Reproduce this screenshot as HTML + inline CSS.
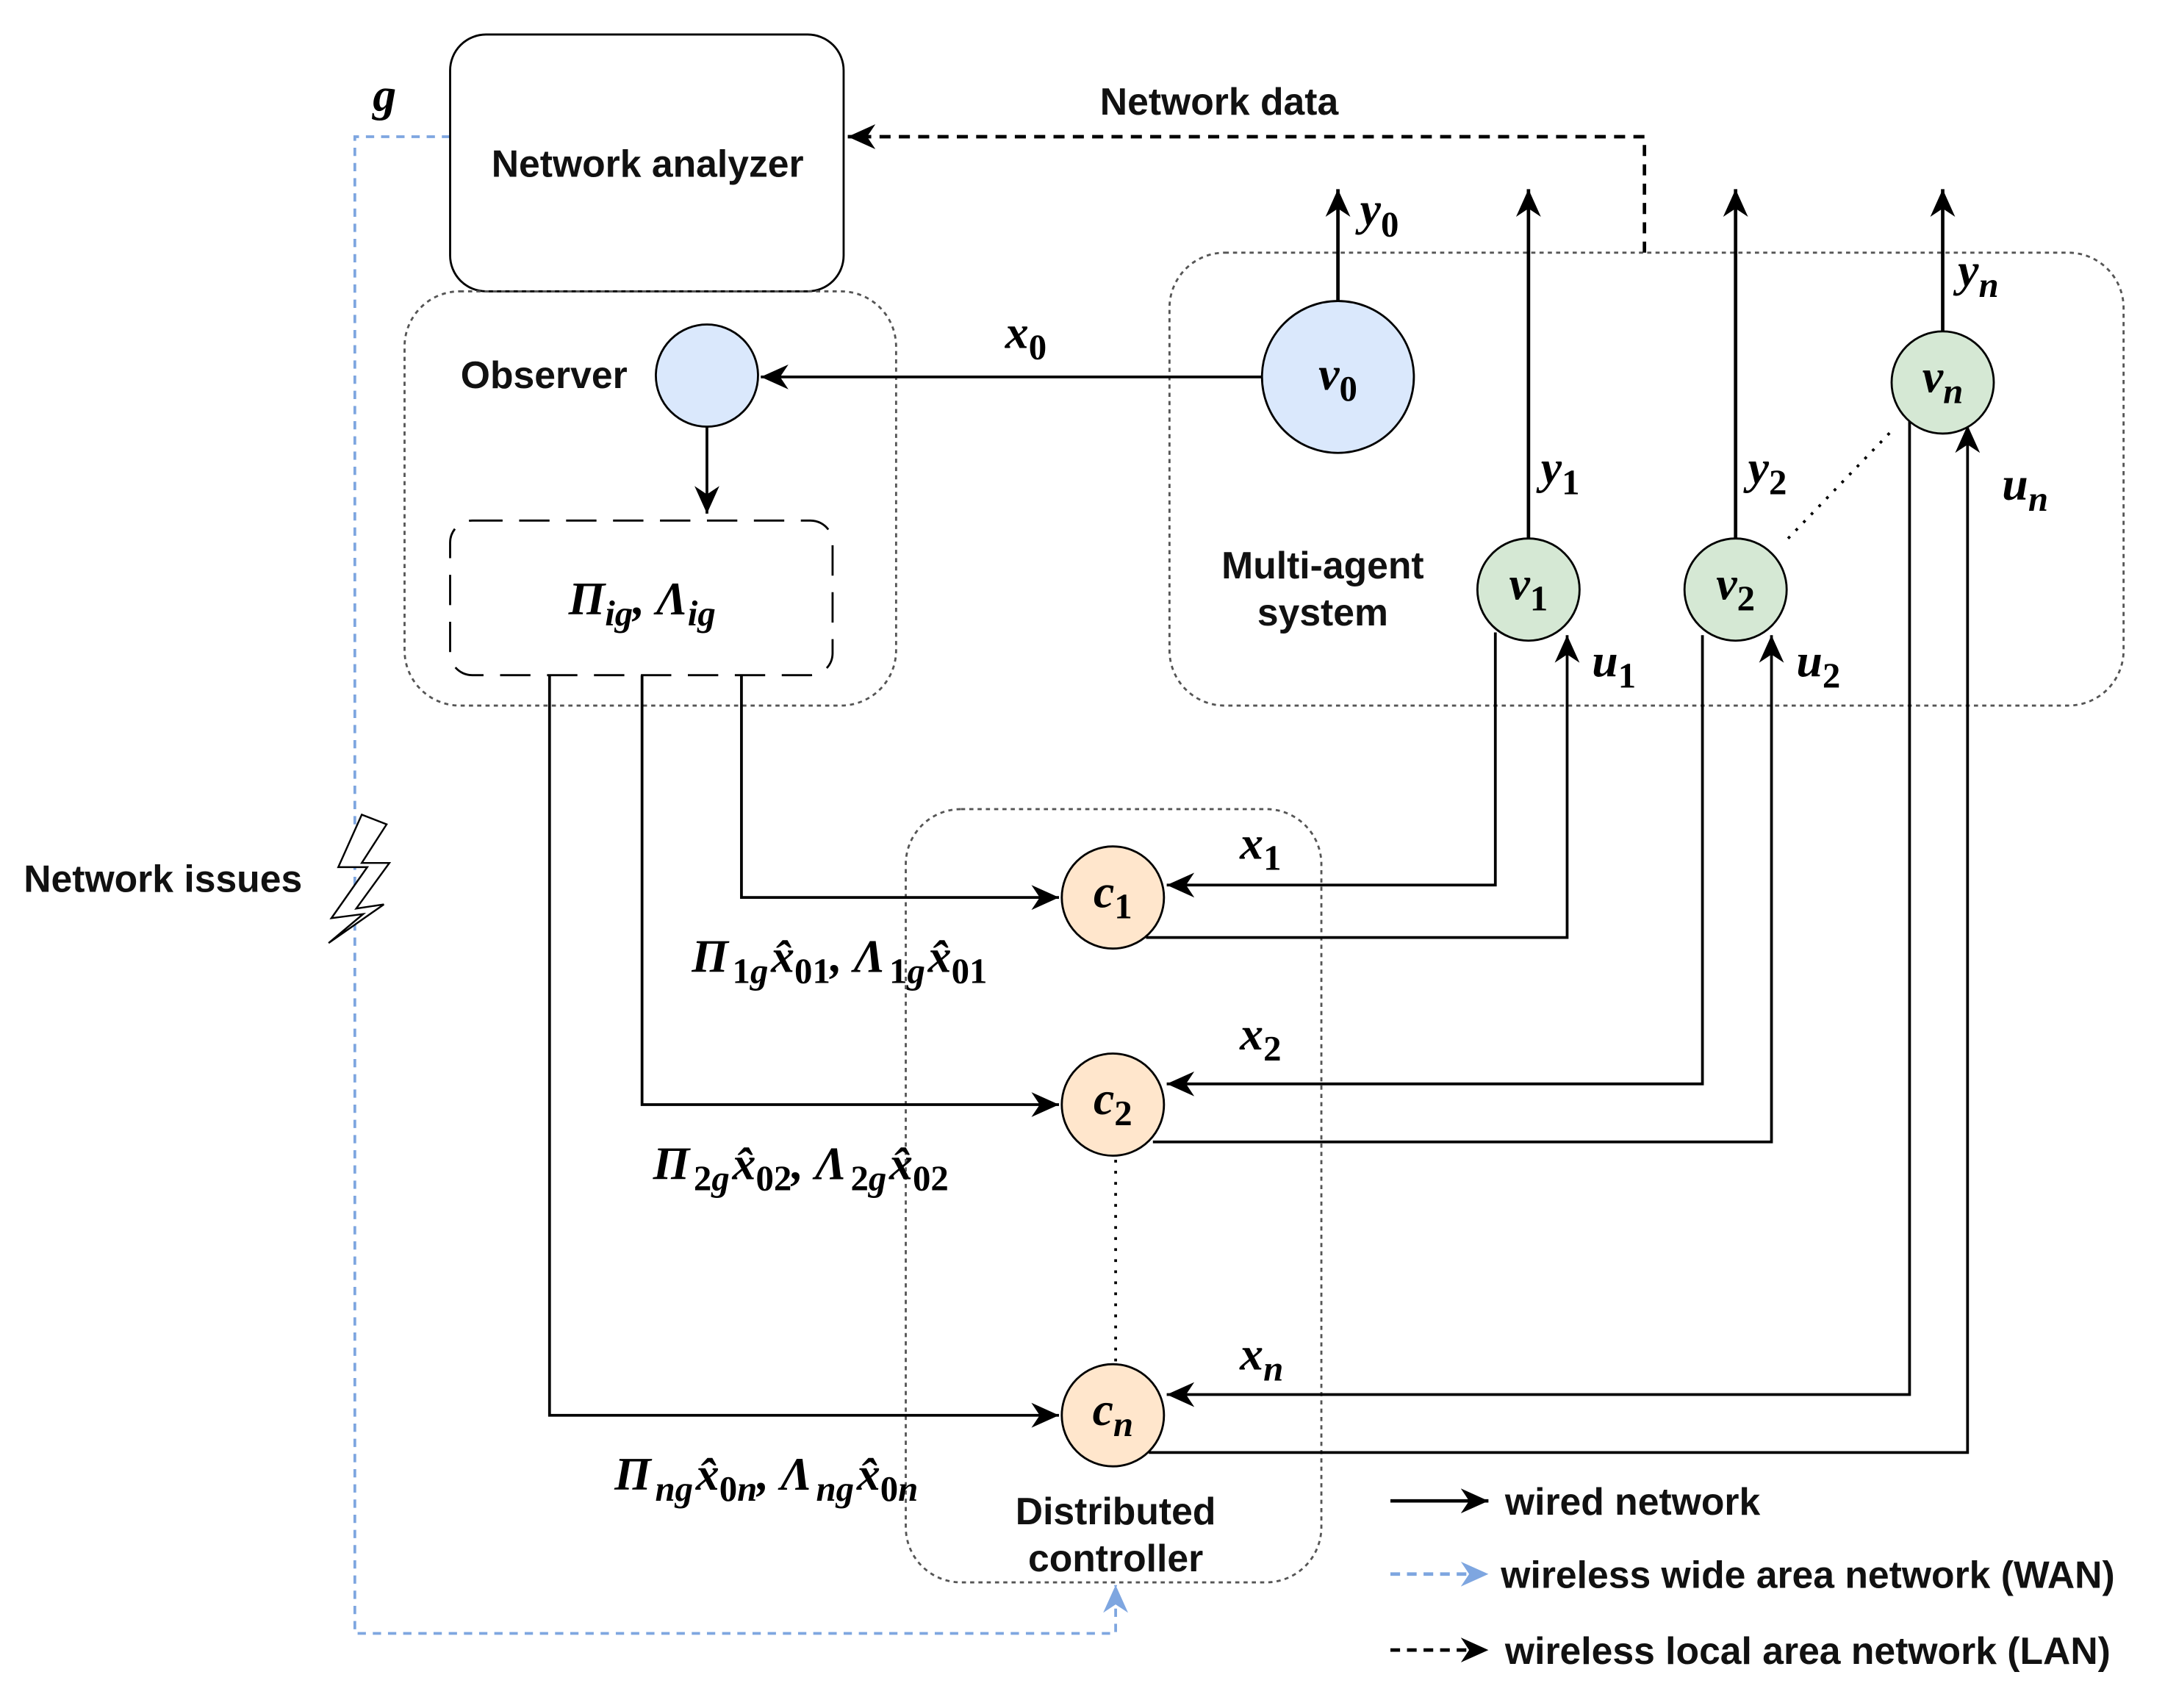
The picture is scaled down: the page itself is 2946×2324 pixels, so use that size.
<!DOCTYPE html>
<html><head><meta charset="utf-8"><style>
html,body{margin:0;padding:0;background:#fff;}
svg{display:block;}
.s{font-family:"Liberation Sans",sans-serif;font-size:27.5px;font-weight:bold;fill:#111;}
.m{font-family:"Liberation Serif",serif;font-size:34px;font-weight:bold;font-style:italic;fill:#000;}
.sub{font-size:26px;}
.u{font-style:normal;}
</style></head><body>
<svg width="2946" height="2324" viewBox="0 0 1568 1237" preserveAspectRatio="none" xmlns="http://www.w3.org/2000/svg">
<defs>
<marker id="A" markerWidth="22" markerHeight="22" refX="20" refY="11" orient="auto" markerUnits="userSpaceOnUse" viewBox="0 0 22 22"><path d="M0,2 L20,11 L0,20 L6,11 z" fill="#000"/></marker>
<marker id="AB" markerWidth="22" markerHeight="22" refX="20" refY="11" orient="auto" markerUnits="userSpaceOnUse" viewBox="0 0 22 22"><path d="M0,2 L20,11 L0,20 L6,11 z" fill="#7ea6e0"/></marker>
</defs>

<path d="M326,99 L257,99 L257,1183 L808,1183 L808,1148" fill="none" stroke="#7ea6e0" stroke-width="2" stroke-dasharray="6,5" marker-end="url(#AB)"/>

<rect x="326" y="25" width="285" height="186" rx="26" fill="#fff" stroke="#000" stroke-width="1.5"/>
<text class="s" x="469" y="128" text-anchor="middle">Network analyzer</text>
<text class="m" x="270" y="80">g</text>

<rect x="293" y="211" width="356" height="300" rx="40" fill="none" stroke="#555" stroke-width="1.5" stroke-dasharray="3,3"/>
<text class="s" x="394" y="281" text-anchor="middle">Observer</text>
<circle cx="512" cy="272" r="37" fill="#dae8fc" stroke="#000" stroke-width="1.5"/>
<line x1="512" y1="309" x2="512" y2="372" stroke="#000" stroke-width="2" marker-end="url(#A)"/>
<rect x="326" y="377" width="277" height="112" rx="16" fill="none" stroke="#000" stroke-width="1.5" stroke-dasharray="22,12"/>
<text class="m" x="465" y="445" text-anchor="middle">Π<tspan class="sub" dy="8">ig</tspan><tspan dy="-8">, Λ</tspan><tspan class="sub" dy="8">ig</tspan></text>

<rect x="847" y="183" width="691" height="328" rx="40" fill="none" stroke="#555" stroke-width="1.5" stroke-dasharray="3,3"/>
<text class="s" x="958" y="419" text-anchor="middle">Multi-agent</text>
<text class="s" x="958" y="453" text-anchor="middle">system</text>

<path d="M1191,183 L1191,99 L614,99" fill="none" stroke="#000" stroke-width="2.5" stroke-dasharray="8,6" marker-end="url(#A)"/>
<text class="s" x="883" y="83" text-anchor="middle">Network data</text>

<line x1="969" y1="218" x2="969" y2="137" stroke="#000" stroke-width="2.5" marker-end="url(#A)"/>
<line x1="914" y1="273" x2="551" y2="273" stroke="#000" stroke-width="2" marker-end="url(#A)"/>
<circle cx="969" cy="273" r="55" fill="#dae8fc" stroke="#000" stroke-width="1.5"/>
<text class="m" x="969" y="282" text-anchor="middle">v<tspan class="sub u" dy="8">0</tspan></text>
<text class="m" x="985" y="163">y<tspan class="sub u" dy="8">0</tspan></text>
<text class="m" x="728" y="252">x<tspan class="sub u" dy="8">0</tspan></text>

<line x1="1107" y1="390" x2="1107" y2="137" stroke="#000" stroke-width="2.5" marker-end="url(#A)"/>
<line x1="1257" y1="390" x2="1257" y2="137" stroke="#000" stroke-width="2.5" marker-end="url(#A)"/>
<line x1="1407" y1="240" x2="1407" y2="137" stroke="#000" stroke-width="2.5" marker-end="url(#A)"/>
<text class="m" x="1116" y="350">y<tspan class="sub u" dy="8">1</tspan></text>
<text class="m" x="1266" y="350">y<tspan class="sub u" dy="8">2</tspan></text>
<text class="m" x="1418" y="207">y<tspan class="sub" dy="8">n</tspan></text>
<line x1="1295" y1="390" x2="1372" y2="310" stroke="#000" stroke-width="2" stroke-dasharray="2,6"/>

<rect x="656" y="586" width="301" height="560" rx="40" fill="none" stroke="#555" stroke-width="1.5" stroke-dasharray="3,3"/>
<text class="s" x="808" y="1104" text-anchor="middle">Distributed</text>
<text class="s" x="808" y="1138" text-anchor="middle">controller</text>
<line x1="808" y1="840" x2="808" y2="988" stroke="#000" stroke-width="2" stroke-dasharray="2,6"/>

<path d="M537,489 L537,650 L767,650" fill="none" stroke="#000" stroke-width="2" marker-end="url(#A)"/>
<path d="M465,489 L465,800 L767,800" fill="none" stroke="#000" stroke-width="2" marker-end="url(#A)"/>
<path d="M398,489 L398,1025 L767,1025" fill="none" stroke="#000" stroke-width="2" marker-end="url(#A)"/>

<path d="M1083,458 L1083,641 L845,641" fill="none" stroke="#000" stroke-width="2" marker-end="url(#A)"/>
<path d="M830,679 L1135,679 L1135,460" fill="none" stroke="#000" stroke-width="2" marker-end="url(#A)"/>
<path d="M1233,460 L1233,785 L845,785" fill="none" stroke="#000" stroke-width="2" marker-end="url(#A)"/>
<path d="M835,827 L1283,827 L1283,460" fill="none" stroke="#000" stroke-width="2" marker-end="url(#A)"/>
<path d="M1383,302 L1383,1010 L845,1010" fill="none" stroke="#000" stroke-width="2" marker-end="url(#A)"/>
<path d="M832,1052 L1425,1052 L1425,308" fill="none" stroke="#000" stroke-width="2" marker-end="url(#A)"/>

<circle cx="1107" cy="427" r="37" fill="#d5e8d4" stroke="#000" stroke-width="1.5"/>
<text class="m" x="1107" y="434" text-anchor="middle">v<tspan class="sub u" dy="8">1</tspan></text>
<circle cx="1257" cy="427" r="37" fill="#d5e8d4" stroke="#000" stroke-width="1.5"/>
<text class="m" x="1257" y="434" text-anchor="middle">v<tspan class="sub u" dy="8">2</tspan></text>
<circle cx="1407" cy="277" r="37" fill="#d5e8d4" stroke="#000" stroke-width="1.5"/>
<text class="m" x="1407" y="284" text-anchor="middle">v<tspan class="sub" dy="8">n</tspan></text>
<text class="m" x="1153" y="490">u<tspan class="sub u" dy="8">1</tspan></text>
<text class="m" x="1301" y="490">u<tspan class="sub u" dy="8">2</tspan></text>
<text class="m" x="1450" y="362">u<tspan class="sub" dy="8">n</tspan></text>

<circle cx="806" cy="650" r="37" fill="#ffe6cc" stroke="#000" stroke-width="1.5"/>
<text class="m" x="806" y="657" text-anchor="middle">c<tspan class="sub u" dy="8">1</tspan></text>
<circle cx="806" cy="800" r="37" fill="#ffe6cc" stroke="#000" stroke-width="1.5"/>
<text class="m" x="806" y="807" text-anchor="middle">c<tspan class="sub u" dy="8">2</tspan></text>
<circle cx="806" cy="1025" r="37" fill="#ffe6cc" stroke="#000" stroke-width="1.5"/>
<text class="m" x="806" y="1032" text-anchor="middle">c<tspan class="sub" dy="8">n</tspan></text>

<text class="m" x="898" y="622">x<tspan class="sub u" dy="8">1</tspan></text>
<text class="m" x="898" y="760">x<tspan class="sub u" dy="8">2</tspan></text>
<text class="m" x="898" y="992">x<tspan class="sub" dy="8">n</tspan></text>

<text class="m" x="608" y="704" text-anchor="middle">Π<tspan class="sub" dy="8" dx="3"><tspan class="u">1</tspan>g</tspan><tspan dy="-8" dx="2">x̂</tspan><tspan class="sub u" dy="8">01</tspan><tspan dy="-8">, Λ</tspan><tspan class="sub" dy="8" dx="3"><tspan class="u">1</tspan>g</tspan><tspan dy="-8" dx="2">x̂</tspan><tspan class="sub u" dy="8">01</tspan></text>
<text class="m" x="580" y="854" text-anchor="middle">Π<tspan class="sub" dy="8" dx="3"><tspan class="u">2</tspan>g</tspan><tspan dy="-8" dx="2">x̂</tspan><tspan class="sub u" dy="8">02</tspan><tspan dy="-8">, Λ</tspan><tspan class="sub" dy="8" dx="3"><tspan class="u">2</tspan>g</tspan><tspan dy="-8" dx="2">x̂</tspan><tspan class="sub u" dy="8">02</tspan></text>
<text class="m" x="555" y="1079" text-anchor="middle">Π<tspan class="sub" dy="8" dx="3">ng</tspan><tspan dy="-8" dx="2">x̂</tspan><tspan class="sub" dy="8"><tspan class="u">0</tspan>n</tspan><tspan dy="-8">, Λ</tspan><tspan class="sub" dy="8" dx="3">ng</tspan><tspan dy="-8" dx="2">x̂</tspan><tspan class="sub" dy="8"><tspan class="u">0</tspan>n</tspan></text>

<text class="s" x="118" y="646" text-anchor="middle">Network issues</text>
<path d="M262,590 L245,628 L266,628 L240,665 L263,662 L238,683 L278,655 L258,658 L282,625 L262,625 L280,597 z" fill="#fff" stroke="#000" stroke-width="1.3"/>

<line x1="1007" y1="1087" x2="1078" y2="1087" stroke="#000" stroke-width="2.5" marker-end="url(#A)"/>
<text class="s" x="1090" y="1097">wired network</text>
<line x1="1007" y1="1140" x2="1078" y2="1140" stroke="#7ea6e0" stroke-width="2.5" stroke-dasharray="7,5" marker-end="url(#AB)"/>
<text class="s" x="1087" y="1150">wireless wide area network (WAN)</text>
<line x1="1007" y1="1195" x2="1078" y2="1195" stroke="#000" stroke-width="2.5" stroke-dasharray="7,5" marker-end="url(#A)"/>
<text class="s" x="1090" y="1205">wireless local area network (LAN)</text>
</svg>
</body></html>
